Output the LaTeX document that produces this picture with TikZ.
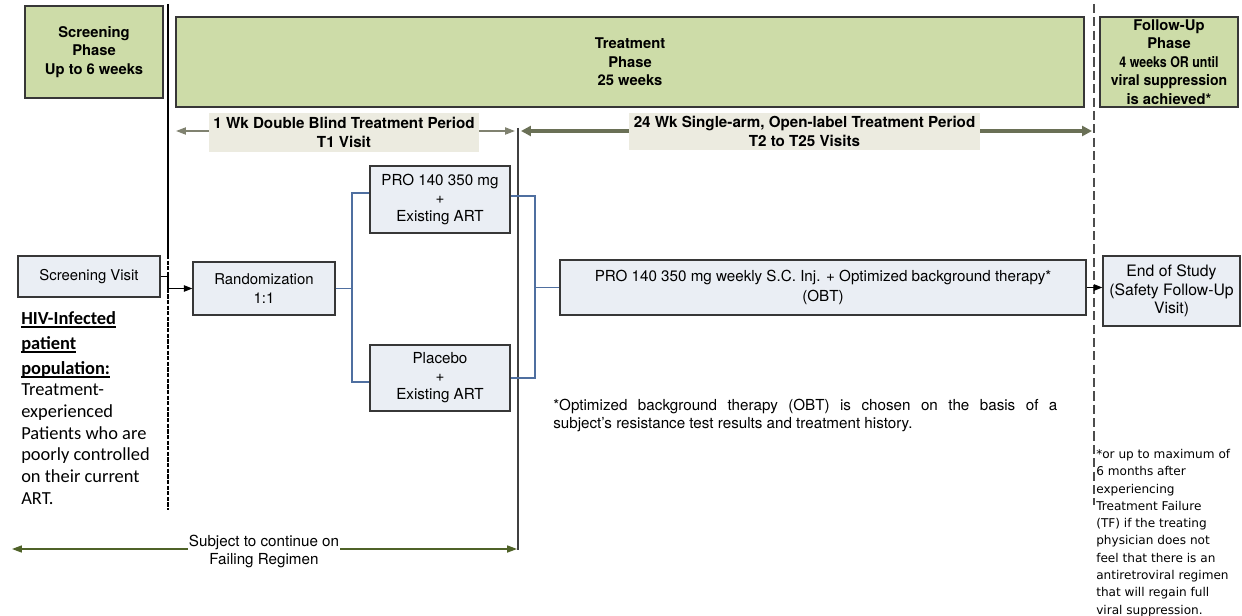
\documentclass[tikz,border=0pt]{standalone}
\usepackage{fontspec}
\setmainfont{TeX Gyre Heros}
\newfontfamily\carl{Carlito}
\newfontfamily\dejav{DejaVu Sans}
\usetikzlibrary{arrows.meta,calc}
\definecolor{phgreen}{RGB}{205,220,168}
\definecolor{boxfill}{RGB}{234,238,244}
\definecolor{labfill}{RGB}{236,235,224}
\definecolor{bordc}{RGB}{55,55,55}
\definecolor{brk}{RGB}{79,111,160}
\definecolor{arrgray}{RGB}{128,130,112}
\definecolor{arrdark}{RGB}{106,112,86}
\definecolor{arrolive}{RGB}{79,98,40}
\newcommand\ulx[1]{\setbox0\hbox{#1}\rlap{\raisebox{-2.8pt}{\rule{\wd0}{1.3pt}}}\box0}
\begin{document}
\begin{tikzpicture}[x=0.025cm,y=-0.025cm,
  sz/.style 2 args={minimum width=#1*0.025cm,minimum height=#2*0.025cm},
  phase/.style={draw=bordc,fill=phgreen,line width=0.9pt,inner sep=0pt,align=center,font=\bfseries\fontsize{10.5}{13.2}\selectfont},
  wbox/.style={draw=bordc,fill=boxfill,line width=0.9pt,inner sep=0pt,align=center,font=\fontsize{10.8}{12.8}\selectfont},
  lab/.style={fill=labfill,inner sep=0pt,align=center,font=\bfseries\fontsize{10.8}{13.6}\selectfont},
  bl/.style={draw=brk,line width=0.8pt},
  tipa/.style={{Triangle[length=7pt,width=5pt]}-{Triangle[length=7pt,width=5pt]}},
  tipb/.style={{Triangle[length=7pt,width=7pt]}-{Triangle[length=7pt,width=7pt]}},
  tipc/.style={-{Triangle[length=6pt,width=4.5pt]}},
]
\useasboundingbox (0,0) rectangle (1242,616);

% vertical separators
\draw[line width=1.8pt] (168,4) -- (168,255);
\draw[line width=1.5pt,dash pattern=on 3pt off 1pt] (168,255) -- (168,510);
\draw[draw=black!70,line width=1pt,dash pattern=on 6.5pt off 3pt] (1094,4) -- (1094,505);
\draw[draw=black!75,line width=1pt] (518,128) -- (518,550);

% phase boxes
\node[phase,sz={138}{92}] (sp) at (94,52) {Screening\\Phase\\Up to 6 weeks};
\node[phase,sz={908}{90}] (tp) at (630,62) {Treatment\\Phase\\25 weeks};
\node[phase,sz={138}{90}] (fp) at (1169,62) {Follow-Up\\Phase\\\scalebox{0.84}[1]{4 weeks OR until}\\\scalebox{0.95}[1]{viral suppression}\\is achieved*};

% period arrows
\coordinate (dbL) at (176,131); \coordinate (dbR) at (515,131);
\coordinate (olL) at (521,131); \coordinate (olR) at (1092,131);
\draw[arrgray,line width=1.2pt,tipa] (dbL) -- (dbR);
\draw[arrdark,line width=2.6pt,tipb] (olL) -- (olR);
\node[lab,sz={270}{39}] (dbl) at (344,132.5) {1 Wk Double Blind Treatment Period\\T1 Visit};
\node[lab,sz={351}{37}] (oll) at (804.5,131.5) {24 Wk Single-arm, Open-label Treatment Period\\T2 to T25 Visits};

% flow boxes
\node[wbox,sz={142}{41},font=\fontsize{10.6}{12.8}\selectfont] (sv) at (89,276.5) {Screening Visit};
\node[wbox,sz={142}{53},font=\fontsize{10.6}{14}\selectfont] (rand) at (264,288.5) {Randomization\\1:1};
\node[wbox,sz={140}{67}] (pro) at (440,199.5) {PRO 140 350 mg\\+\\Existing ART};
\node[wbox,sz={140}{66}] (pla) at (440,378) {Placebo\\+\\Existing ART};
\node[wbox,sz={526}{55},font=\fontsize{10.8}{14}\selectfont] (obt) at (823,287.5) {PRO 140 350 mg weekly S.C. Inj. + Optimized background therapy*\\(OBT)};
\node[wbox,sz={137}{70},font=\fontsize{11.2}{13}\selectfont] (eos) at (1171.5,291) {End of Study\\(Safety Follow-Up\\Visit)};

% connectors
\draw[line width=0.8pt,tipc] (sv.east) -- (168,276.5) -- (168,288.5) -- (rand.west);
\draw[bl] (rand.east) -- (352,288.5) |- ($(pro.west)+(0,-6.5)$);
\draw[bl] (352,288.5) |- ($(pla.west)+(0,4)$);
\draw[bl] ($(pro.east)+(0,-3.5)$) -- (535,196) -- (535,378) -- (pla.east);
\draw[bl] (535,287.5) -- (obt.west);
\draw[line width=0.8pt,tipc] (obt.east) -- (obt.east -| eos.west);

% bottom arrow
\coordinate (bL) at (12,549); \coordinate (bR) at (517,549);
\draw[arrolive,line width=1pt,tipa] (bL) -- (bR);
\node[fill=white,inner xsep=1pt,inner ysep=0pt,align=center,font=\fontsize{10.8}{12.8}\selectfont] (subj) at (264,551) {Subject to continue on\\Failing Regimen};

% texts
\node[anchor=north west,inner sep=0pt,align=left,font=\carl\fontsize{13.1}{15.4}\selectfont] (hiv) at (21,311)
 {{\bfseries\ulx{HIV-Infected}}\\[2.4pt]{\bfseries\ulx{patient}}\\[2.4pt]{\bfseries\ulx{population:}}\\Treatment-\\experienced\\Patients who are\\poorly controlled\\on their current\\ART.};
\node[anchor=north west,inner sep=0pt,align=left,font=\fontsize{10.8}{12.8}\selectfont] (note) at (553,399)
 {\makebox[12.6cm][s]{*Optimized background therapy (OBT) is chosen on the basis of a}\\subject's resistance test results and treatment history.};
\node[anchor=north west,inner sep=0pt,align=left,font=\dejav\fontsize{8.6}{12.3}\selectfont] (fnote) at (1096,449)
 {*or up to maximum of\\6 months after\\experiencing\\Treatment Failure\\(TF) if the treating\\physician does not\\feel that there is an\\antiretroviral regimen\\that will regain full\\viral suppression.};
\end{tikzpicture}
\end{document}
